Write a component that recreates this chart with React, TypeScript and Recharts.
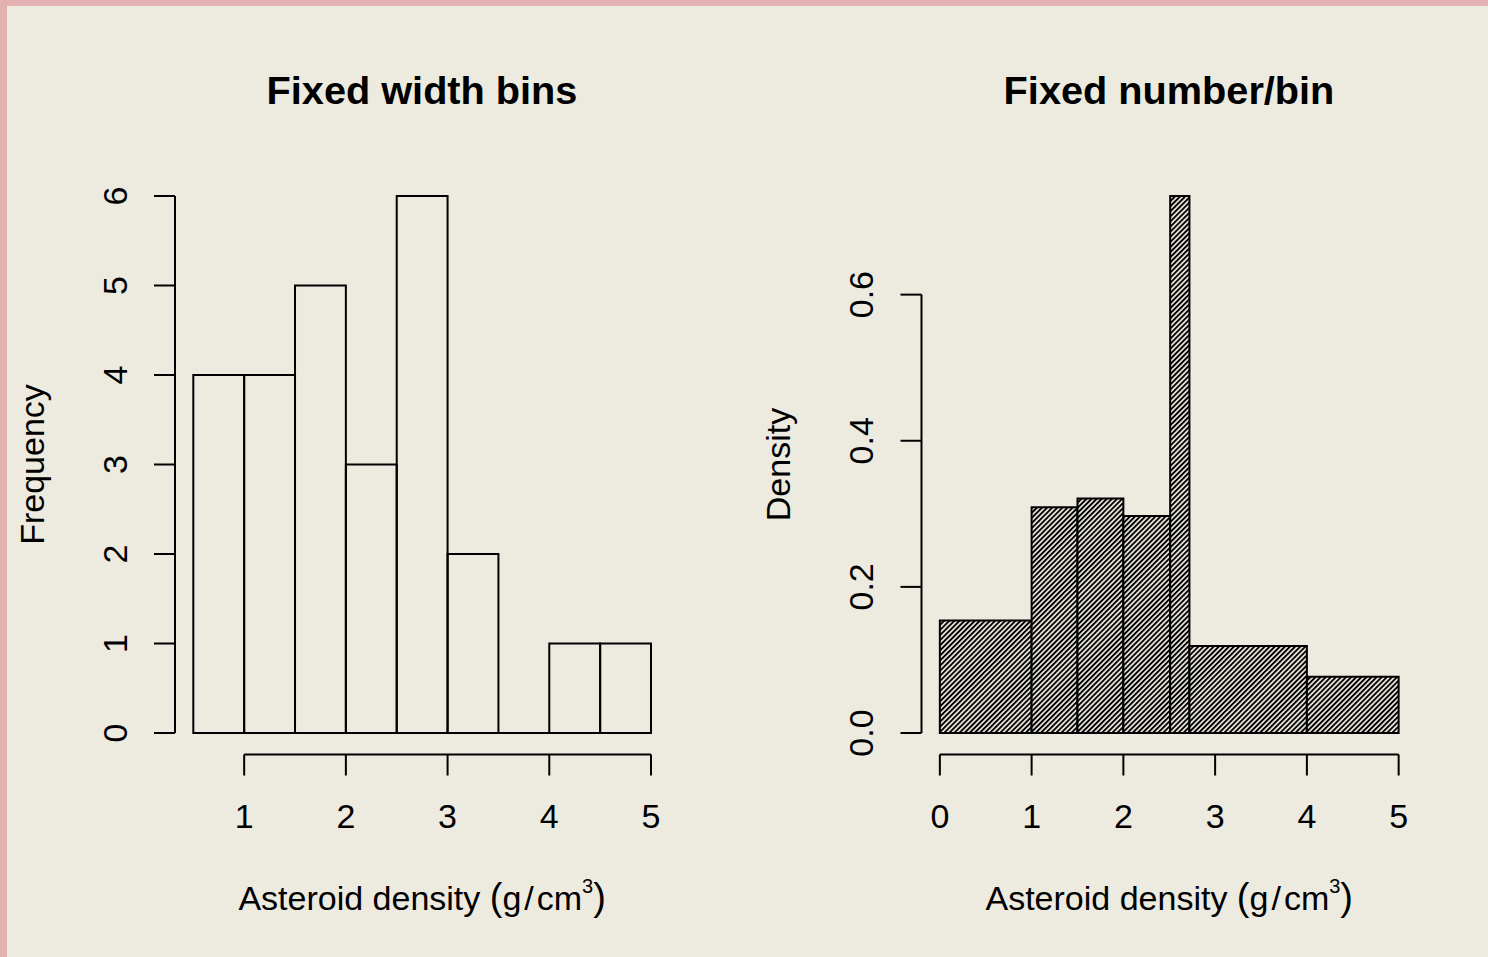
import React from 'react';
import { ComposedChart, XAxis, YAxis, ReferenceArea, ReferenceLine } from 'recharts';

// left panel: equal width bins (counts)
const widthBinEdges = [0.5, 1, 1.5, 2, 2.5, 3, 3.5, 4, 4.5, 5];
const widthBinCounts = [4, 4, 5, 3, 6, 2, 0, 1, 1];
const widthXTicks = [1, 2, 3, 4, 5];
const widthYTicks = [0, 1, 2, 3, 4, 5, 6];

// right panel: roughly equal number per bin (density)
const numberBinEdges = [0, 1, 1.5, 2, 2.51, 2.72, 4, 5];
const numberBinDensity = [0.154, 0.309, 0.321, 0.297, 0.735, 0.119, 0.077];
const numberXTicks = [0, 1, 2, 3, 4, 5];
const numberYTicks = [0, 0.2, 0.4, 0.6];

const FONT = '"Liberation Sans", Arial, Helvetica, sans-serif';
const FS = 34;
const BG = '#edeae0';
const BORDER = '#e4b1b1';

// R style axis limits: data range stretched by 4% on both ends
const pad = (lo: number, hi: number): [number, number] => {
  const d = (hi - lo) * 0.04;
  return [lo - d, hi + d];
};

const toBins = (edges: number[], vals: number[]) =>
  vals.map((v, i) => ({ lo: edges[i], hi: edges[i + 1], v }));

const XTick = (props: any) => {
  const { x, y, payload, fmt } = props;
  return (
    <text x={x} y={y} textAnchor="middle" fontSize={FS} fontFamily={FONT} fill="#000">
      {fmt ? fmt(payload.value) : payload.value}
    </text>
  );
};

const YTick = (props: any) => {
  const { x, y, payload, fmt } = props;
  return (
    <text
      x={x}
      y={y}
      transform={`rotate(-90 ${x} ${y})`}
      textAnchor="middle"
      fontSize={FS}
      fontFamily={FONT}
      fill="#000"
    >
      {fmt ? fmt(payload.value) : payload.value}
    </text>
  );
};

const XLabel = (props: any) => {
  const vb = props.viewBox;
  const cx = vb.x + vb.width / 2;
  const by = vb.y + 155.5;
  return (
    <text x={cx} y={by} textAnchor="middle" fontSize={FS} fontFamily={FONT} fill="#000">
      Asteroid density <tspan fontSize={38}>(</tspan>g<tspan dx={3}>/</tspan>
      <tspan dx={3}>cm</tspan>
      <tspan fontSize={20} dy={-17}>3</tspan>
      <tspan fontSize={38} dy={17}>)</tspan>
    </text>
  );
};

const yLabel = (text: string) => (props: any) => {
  const vb = props.viewBox;
  const bx = vb.x + vb.width - 131.5;
  const cy = vb.y + vb.height / 2;
  return (
    <text
      x={bx}
      y={cy}
      transform={`rotate(-90 ${bx} ${cy})`}
      textAnchor="middle"
      fontSize={FS}
      fontFamily={FONT}
      fill="#000"
    >
      {text}
    </text>
  );
};

type PanelProps = {
  left: number;
  marginLeft: number;
  marginRight: number;
  edges: number[];
  vals: number[];
  xTicks: number[];
  yTicks: number[];
  yLabelText: string;
  fill: string;
  yFmt?: (v: number) => string;
};

function Panel({ left, marginLeft, marginRight, edges, vals, xTicks, yTicks, yLabelText, fill, yFmt }: PanelProps) {
  const bins = toBins(edges, vals);
  const xDom = pad(edges[0], edges[edges.length - 1]);
  const yDom = pad(0, Math.max(...vals));
  const axisStroke = { stroke: '#000', strokeWidth: 2 };
  return (
    <div style={{ position: 'absolute', left, top: 0 }}>
      <ComposedChart
        width={744}
        height={957}
        data={bins}
        margin={{ top: 174.5, right: marginRight, bottom: 142.5, left: marginLeft }}
      >
        <XAxis
          type="number"
          dataKey="lo"
          scale="linear"
          domain={xDom}
          allowDataOverflow
          ticks={xTicks}
          interval={0}
          height={60}
          axisLine={false}
          tickLine={axisStroke}
          tickSize={21}
          tickMargin={52}
          tick={(p: any) => <XTick {...p} />}
          label={{ content: (p: any) => <XLabel {...p} /> } as any}
        />
        <YAxis
          type="number"
          scale="linear"
          domain={yDom}
          allowDataOverflow
          ticks={yTicks}
          interval={0}
          width={60}
          axisLine={false}
          tickLine={axisStroke}
          tickSize={21}
          tickMargin={27}
          tick={(p: any) => <YTick {...p} fmt={yFmt} />}
          label={{ content: yLabel(yLabelText) } as any}
        />
        {bins.map((b, i) =>
          b.v > 0 ? (
            <ReferenceArea
              key={'bar' + i}
              x1={b.lo}
              x2={b.hi}
              y1={0}
              y2={b.v}
              fill={fill}
              fillOpacity={1}
              stroke="#000"
              strokeWidth={2}
              ifOverflow="visible"
            />
          ) : (
            <ReferenceLine
              key={'bar' + i}
              segment={[{ x: b.lo, y: 0 }, { x: b.hi, y: 0 }]}
              stroke="#000"
              strokeWidth={2}
              ifOverflow="visible"
            />
          )
        )}
        <ReferenceLine
          segment={[{ x: xTicks[0], y: yDom[0] }, { x: xTicks[xTicks.length - 1], y: yDom[0] }]}
          stroke="#000"
          strokeWidth={2}
          ifOverflow="visible"
        />
        <ReferenceLine
          segment={[{ x: xDom[0], y: yTicks[0] }, { x: xDom[0], y: yTicks[yTicks.length - 1] }]}
          stroke="#000"
          strokeWidth={2}
          ifOverflow="visible"
        />
      </ComposedChart>
    </div>
  );
}

export default function App() {
  return (
    <div
      style={{
        position: 'absolute',
        left: 0,
        top: 0,
        width: 1488,
        height: 957,
        background: BORDER,
        overflow: 'hidden',
        fontFamily: FONT,
      }}
    >
      <div style={{ position: 'absolute', left: 7, top: 6, right: 0, bottom: 0, background: BG }} />
      <svg width={0} height={0} style={{ position: 'absolute' }}>
        <defs>
          <pattern
            id="hatch"
            patternUnits="userSpaceOnUse"
            width={3.6}
            height={3.6}
            patternTransform="rotate(45)"
          >
            <rect x={0} y={0} width={3.6} height={3.6} fill={BG} />
            <rect x={0} y={0} width={1.9} height={3.6} fill="#000" />
          </pattern>
        </defs>
      </svg>
      <Panel
        left={0}
        marginLeft={115}
        marginRight={74.7}
        edges={widthBinEdges}
        vals={widthBinCounts}
        xTicks={widthXTicks}
        yTicks={widthYTicks}
        yLabelText="Frequency"
        fill="none"
      />
      <Panel
        left={744}
        marginLeft={117.5}
        marginRight={71}
        edges={numberBinEdges}
        vals={numberBinDensity}
        xTicks={numberXTicks}
        yTicks={numberYTicks}
        yLabelText="Density"
        fill="url(#hatch)"
        yFmt={(v) => v.toFixed(1)}
      />
      <svg width={1488} height={140} style={{ position: 'absolute', left: 0, top: 0 }}>
        <text x={422} y={104} textAnchor="middle" fontSize={39.7} fontWeight="bold" fontFamily={FONT} fill="#000">
          Fixed width bins
        </text>
        <text x={1169} y={104} textAnchor="middle" fontSize={39.7} fontWeight="bold" fontFamily={FONT} fill="#000">
          Fixed number/bin
        </text>
      </svg>
    </div>
  );
}
